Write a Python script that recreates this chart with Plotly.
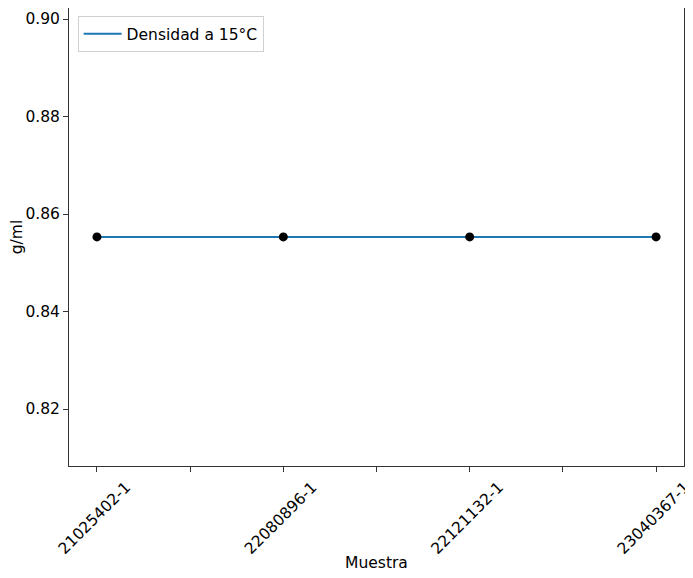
import plotly.graph_objects as go

muestras = ["21025402-1", "22080896-1", "22121132-1", "23040367-1"]
densidad = [0.8553, 0.8553, 0.8553, 0.8553]
y_ticks = [0.82, 0.84, 0.86, 0.88, 0.90]

x_idx = list(range(len(muestras)))
x_tickvals = [i * 0.5 for i in range(2 * len(muestras) - 1)]
x_ticktext = [muestras[int(v)] if v == int(v) else "" for v in x_tickvals]

fig = go.Figure()
fig.add_trace(go.Scatter(
    x=x_idx, y=densidad, mode="lines", name="Densidad a 15°C",
    line=dict(color="#1f77b4", width=2),
))
fig.add_trace(go.Scatter(
    x=x_idx, y=densidad, mode="markers", showlegend=False,
    marker=dict(color="black", size=9),
))

font = dict(family="DejaVu Sans", size=15.5, color="black")
# the page body has an 8px margin, so the figure is sized to the remaining area
fig.update_layout(
    width=685, height=570,
    margin=dict(l=61, r=9, t=0, b=112, autoexpand=False),
    plot_bgcolor="white", paper_bgcolor="white",
    font=font,
    legend=dict(
        x=0.014, y=0.982, xanchor="left", yanchor="top",
        bgcolor="rgba(255,255,255,0.8)", bordercolor="#d0d0d0", borderwidth=1,
        font=font, itemwidth=38,
    ),
)
fig.update_xaxes(
    range=[-0.15, 3.15], tickmode="array", tickvals=x_tickvals, ticktext=x_ticktext,
    tickangle=-45, ticklabelshift=29, ticklabeloverflow="allow",
    ticks="outside", ticklen=5, tickcolor="#333", tickwidth=1,
    showline=True, linecolor="#333", linewidth=1, mirror=True,
    showgrid=False, zeroline=False, automargin=False,
    title=dict(text="Muestra", font=font, standoff=0),
)
fig.update_yaxes(
    range=[0.80831, 0.90226], tickmode="array", tickvals=y_ticks,
    ticktext=[f"{v:.2f}" for v in y_ticks],
    ticks="outside", ticklen=5, tickcolor="#333", tickwidth=1,
    showline=True, linecolor="#333", linewidth=1, mirror=True,
    showgrid=False, zeroline=False, automargin=False,
    title=dict(text="g/ml", font=font, standoff=1),
)
fig.write_html("out.html")
